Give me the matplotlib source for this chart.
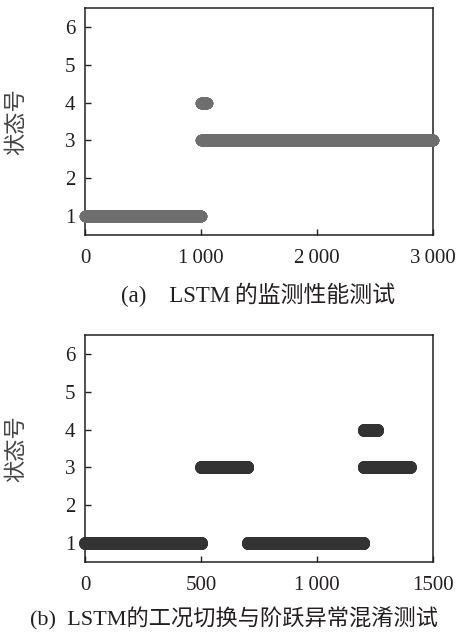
import numpy as np
import matplotlib
matplotlib.use('Agg')
import matplotlib.pyplot as plt

plt.rcParams['font.family'] = ['Liberation Serif', 'Noto Sans CJK SC']

# 状态段: 起点, 终点, 状态号
a_start = [1, 1001, 1001]
a_end = [1000, 1050, 3000]
a_state = [1, 4, 3]

b_start = [1, 501, 701, 1201, 1201]
b_end = [500, 700, 1200, 1260, 1400]
b_state = [1, 3, 1, 4, 3]

a_xticks = [0, 1000, 2000, 3000]
a_xlabels = ['0', '1\u2009000', '2\u2009000', '3\u2009000']
b_xticks = [0, 500, 1000, 1500]
b_xlabels = ['0', '500', '1\u2009000', '1500']
yticks = [1, 2, 3, 4, 5, 6]

caption_a = '(a)\u2003LSTM\u2009的监测性能测试'
caption_b = '(b)  LSTM的工况切换与阶跃异常混淆测试'
ylabel = '状态号'


def expand(starts, ends, states):
    xs, ys = [], []
    for s, e, st in zip(starts, ends, states):
        x = np.arange(s, e + 1)
        xs.append(x)
        ys.append(np.full(len(x), st))
    return np.concatenate(xs), np.concatenate(ys)


def draw(ax, starts, ends, states, color, ms, xmax, xticks, xlabels):
    x, y = expand(starts, ends, states)
    ax.plot(x, y, 'o', color=color, markersize=ms, markeredgewidth=0,
            clip_on=False, zorder=3)
    ax.set_xlim(0, xmax)
    ax.set_ylim(0.5, 6.5)
    ax.set_xticks(xticks)
    ax.set_xticklabels(xlabels)
    ax.set_yticks(yticks)
    ax.tick_params(direction='in', length=4, width=1, labelsize=15,
                   colors='#231f20', pad=7)
    ax.tick_params(axis='x', pad=10)
    for sp in ax.spines.values():
        sp.set_linewidth(1.1)
        sp.set_color('#231f20')
    ax.set_ylabel(ylabel, family=['Noto Sans CJK SC'], fontsize=16,
                  color='#444444')
    ax.yaxis.set_label_coords(-0.165, 0.5)


fig = plt.figure(figsize=(4.61, 6.34), dpi=100)
ax1 = fig.add_axes([0.1844, 0.6293, 0.755, 0.358])
ax2 = fig.add_axes([0.1844, 0.1136, 0.755, 0.358])

draw(ax1, a_start, a_end, a_state, '#6e6e6e', 8.4, 3000, a_xticks, a_xlabels)
draw(ax2, b_start, b_end, b_state, '#333333', 9.3, 1500, b_xticks, b_xlabels)

fig.text(258 / 461, 1 - 295 / 634, caption_a, ha='center', va='center',
         fontsize=16.5, color='#231f20')
fig.text(30 / 461, 1 - 619 / 634, caption_b, ha='left', va='center',
         fontsize=16, color='#231f20')

fig.savefig('out.png', dpi=100)
